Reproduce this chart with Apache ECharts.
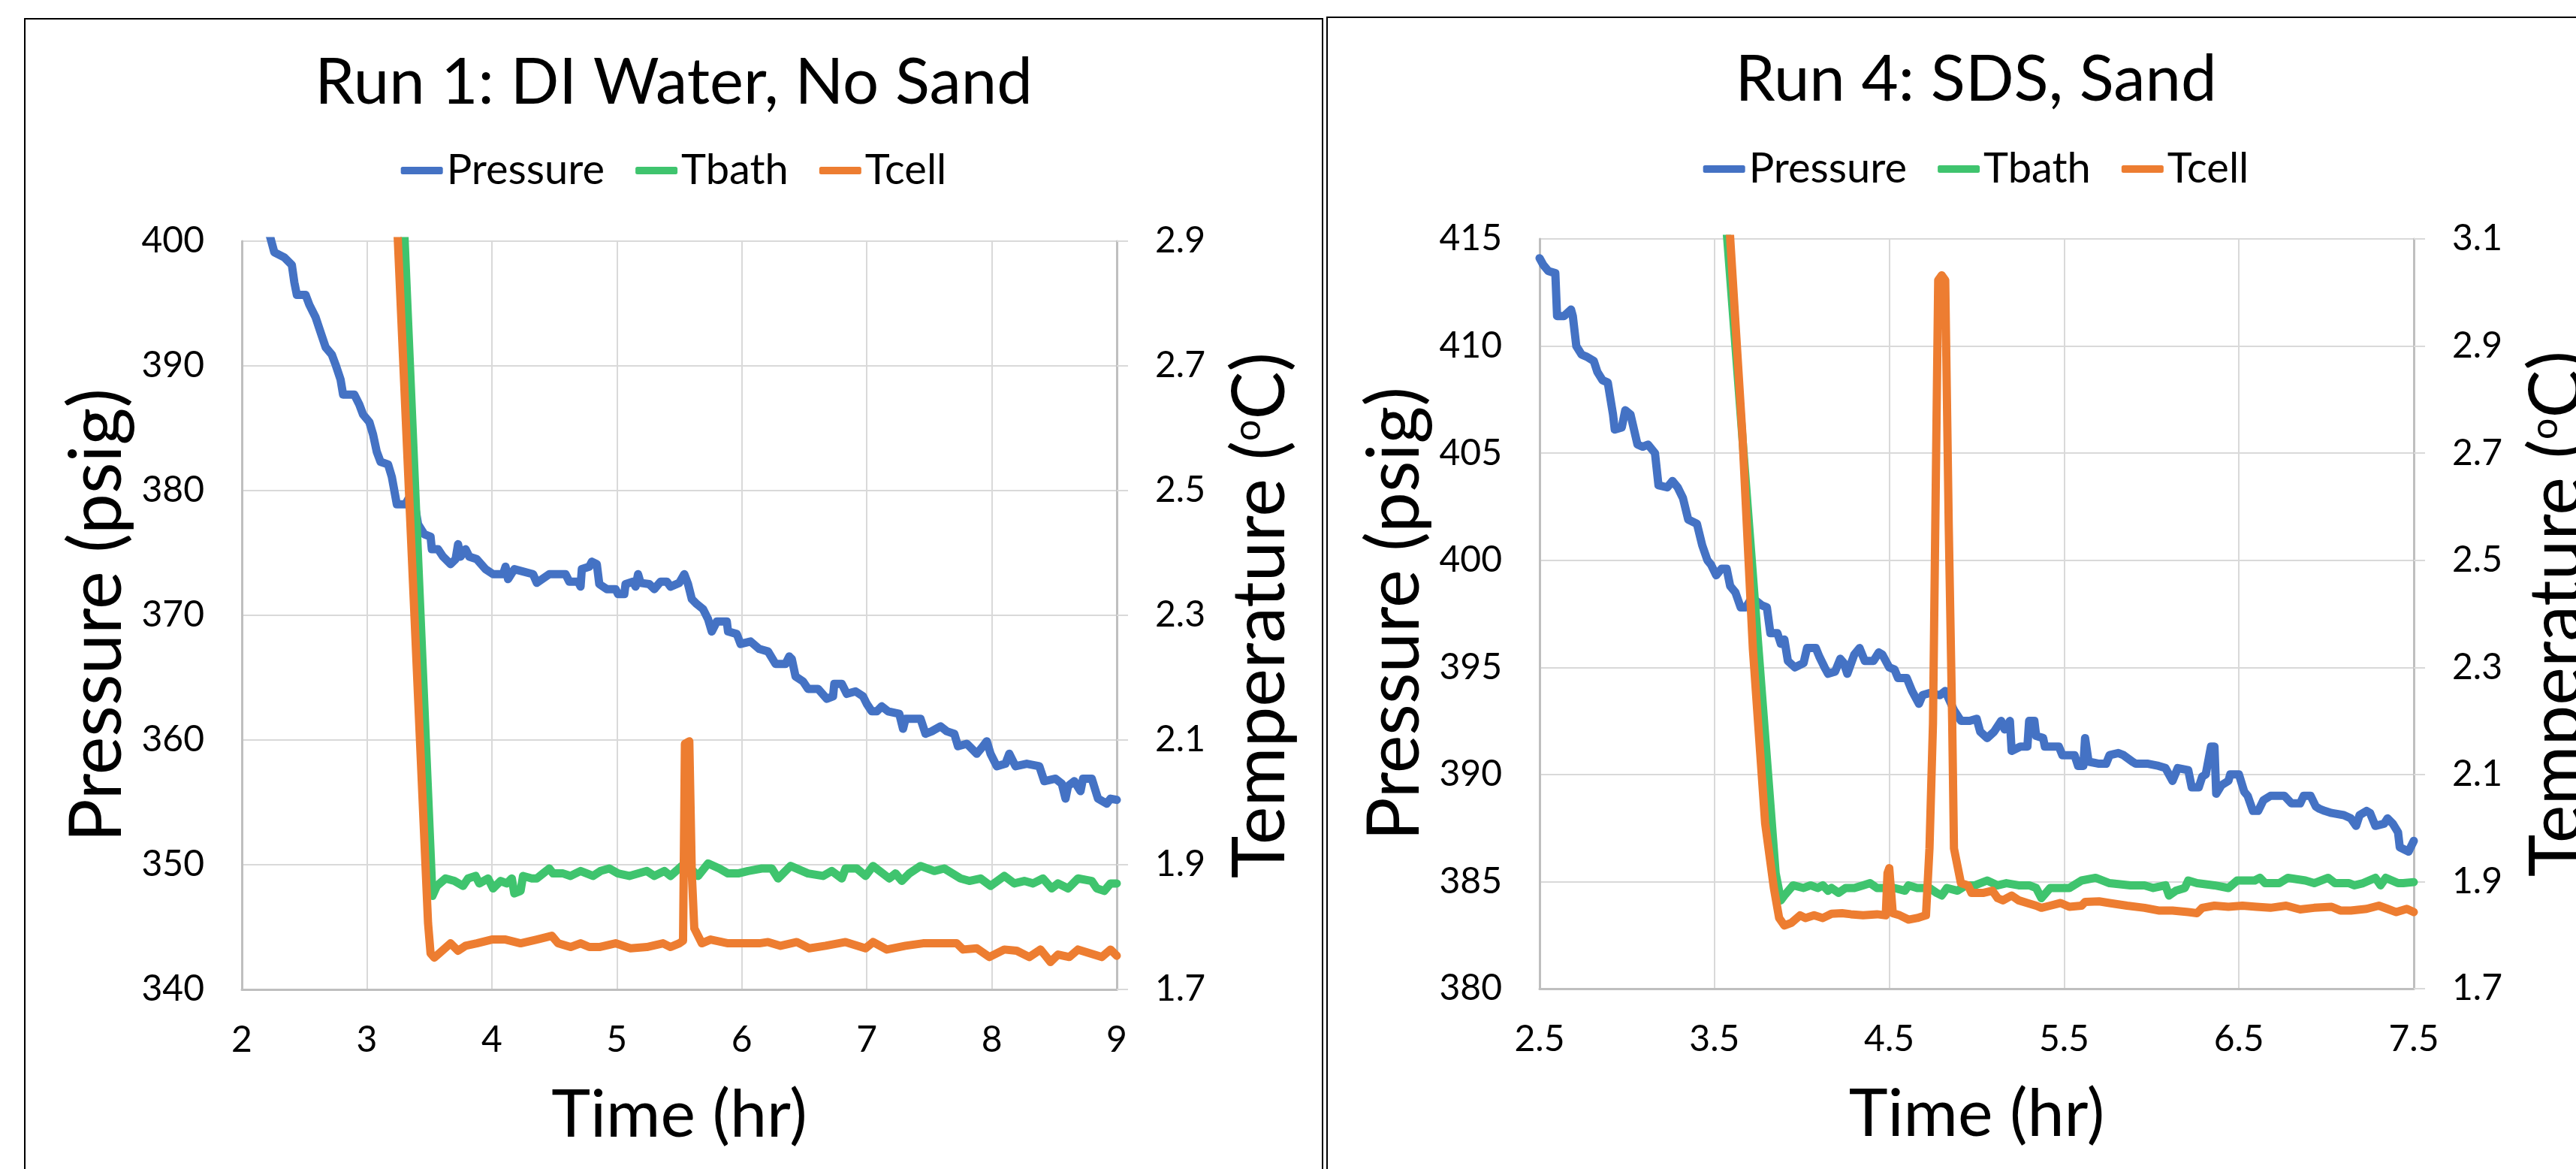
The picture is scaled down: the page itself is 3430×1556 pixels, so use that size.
<!DOCTYPE html>
<html>
<head>
<meta charset="utf-8">
<title>Run 1 / Run 4</title>
<script src="https://cdn.jsdelivr.net/npm/echarts@6/dist/echarts.min.js"></script>
<style>
  html, body { margin: 0; padding: 0; background: #fff; width: 3430px; height: 1556px; overflow: hidden; position: relative; }
  .panel { position: absolute; border: 2px solid #000; border-bottom: none; background: #fff; width: 1726px; height: 1540px; }
  #run1 { left: 32px; top: 24px; }
  #run4 { left: 1766px; top: 22px; }
</style>
</head>
<body>
<div class="panel" id="run1"></div>
<div class="panel" id="run4"></div>
<script>
const FONT = 'Lato';
const seriesNames = ['Pressure', 'Tbath', 'Tcell'];
const seriesColors = ['#4472C4', '#3FC46E', '#ED7D31'];

// Run 1: [time (hr), value]
const run1Pressure = [
  [2.18, 401.5], [2.225, 400.4], [2.26, 399.1], [2.34, 398.7], [2.40, 398.1], [2.42, 396.7], [2.44, 395.7],
  [2.51, 395.7], [2.54, 394.9], [2.59, 393.9], [2.63, 392.7], [2.67, 391.5], [2.72, 390.9], [2.75, 390.1],
  [2.79, 388.9], [2.81, 387.7], [2.90, 387.7], [2.94, 386.9], [2.97, 386.1], [3.02, 385.5], [3.05, 384.5],
  [3.08, 383.1], [3.11, 382.3], [3.17, 382.1], [3.20, 381.1], [3.24, 378.9], [3.31, 378.9], [3.33, 379.3],
  [3.38, 379.1], [3.41, 377.3], [3.46, 376.5], [3.51, 376.3], [3.52, 375.3], [3.57, 375.3], [3.61, 374.7],
  [3.67, 374.1], [3.71, 374.5], [3.73, 375.7], [3.75, 374.7], [3.79, 375.3], [3.82, 374.7], [3.88, 374.5],
  [3.95, 373.7], [4.01, 373.3], [4.09, 373.3], [4.11, 373.9], [4.13, 372.9], [4.18, 373.7], [4.33, 373.3],
  [4.36, 372.6], [4.46, 373.3], [4.59, 373.3], [4.62, 372.7], [4.69, 372.7], [4.71, 372.3], [4.72, 373.7],
  [4.78, 373.9], [4.80, 374.3], [4.84, 374.1], [4.86, 372.5], [4.92, 372.1], [4.99, 372.1], [5.01, 371.7],
  [5.06, 371.7], [5.07, 372.5], [5.13, 372.7], [5.15, 372.3], [5.17, 373.3], [5.19, 372.6], [5.26, 372.5],
  [5.30, 372.1], [5.35, 372.7], [5.40, 372.7], [5.43, 372.3], [5.50, 372.6], [5.54, 373.3], [5.57, 372.5],
  [5.60, 371.3], [5.64, 370.9], [5.69, 370.5], [5.73, 369.7], [5.76, 368.7], [5.80, 369.5], [5.88, 369.5],
  [5.89, 368.7], [5.96, 368.5], [5.99, 367.7], [6.07, 367.9], [6.14, 367.3], [6.21, 367.1], [6.27, 366.1],
  [6.35, 366.1], [6.38, 366.7], [6.40, 366.5], [6.43, 365.1], [6.49, 364.7], [6.53, 364.1], [6.61, 364.1],
  [6.68, 363.3], [6.73, 363.5], [6.74, 364.5], [6.80, 364.5], [6.84, 363.7], [6.91, 363.9], [6.97, 363.5],
  [7.00, 362.9], [7.04, 362.3], [7.08, 362.3], [7.12, 362.7], [7.17, 362.3], [7.26, 362.1], [7.29, 360.9],
  [7.31, 361.7], [7.43, 361.7], [7.47, 360.5], [7.52, 360.7], [7.59, 361.1], [7.64, 360.7], [7.70, 360.5],
  [7.73, 359.5], [7.80, 359.7], [7.88, 358.9], [7.93, 359.5], [7.96, 359.9], [7.99, 358.9], [8.04, 357.9],
  [8.11, 358.1], [8.14, 358.9], [8.19, 357.9], [8.28, 358.1], [8.38, 357.9], [8.42, 356.7], [8.51, 356.9],
  [8.56, 356.5], [8.59, 355.3], [8.61, 356.3], [8.66, 356.7], [8.71, 355.9], [8.73, 356.9], [8.80, 356.9],
  [8.85, 355.3], [8.92, 354.9], [8.95, 355.3], [9.00, 355.2]
];
const run1Tbath = [
  [3.25, 3.15], [3.525, 1.850], [3.56, 1.866], [3.63, 1.878], [3.70, 1.874], [3.77, 1.866], [3.81, 1.878],
  [3.87, 1.882], [3.90, 1.870], [3.97, 1.878], [4.01, 1.862], [4.07, 1.874], [4.12, 1.870], [4.16, 1.878],
  [4.18, 1.854], [4.23, 1.858], [4.25, 1.882], [4.32, 1.878], [4.36, 1.878], [4.41, 1.886], [4.46, 1.894],
  [4.49, 1.886], [4.57, 1.886], [4.63, 1.882], [4.71, 1.890], [4.81, 1.882], [4.87, 1.890], [4.94, 1.894],
  [5.01, 1.886], [5.10, 1.882], [5.24, 1.890], [5.30, 1.882], [5.38, 1.890], [5.43, 1.882], [5.52, 1.898],
  [5.57, 1.898], [5.65, 1.882], [5.73, 1.902], [5.82, 1.894], [5.89, 1.886], [5.97, 1.886], [6.05, 1.890],
  [6.16, 1.894], [6.24, 1.894], [6.29, 1.878], [6.39, 1.898], [6.53, 1.886], [6.65, 1.882], [6.72, 1.890],
  [6.80, 1.878], [6.83, 1.894], [6.92, 1.894], [6.99, 1.882], [7.05, 1.898], [7.18, 1.878], [7.23, 1.886],
  [7.28, 1.874], [7.34, 1.886], [7.43, 1.898], [7.54, 1.890], [7.62, 1.894], [7.75, 1.878], [7.82, 1.874],
  [7.91, 1.878], [7.99, 1.866], [8.10, 1.882], [8.18, 1.870], [8.26, 1.874], [8.33, 1.870], [8.41, 1.878],
  [8.48, 1.862], [8.53, 1.870], [8.61, 1.862], [8.69, 1.878], [8.80, 1.874], [8.84, 1.862], [8.90, 1.858],
  [8.95, 1.870], [9.00, 1.870]
];
const run1Tcell = [
  [3.20, 3.12], [3.49, 1.806], [3.51, 1.758], [3.54, 1.751], [3.58, 1.758], [3.67, 1.774], [3.73, 1.762],
  [3.79, 1.770], [3.88, 1.774], [4.00, 1.780], [4.11, 1.780], [4.23, 1.774], [4.36, 1.780], [4.48, 1.786],
  [4.53, 1.774], [4.63, 1.768], [4.71, 1.774], [4.78, 1.768], [4.86, 1.768], [4.99, 1.774], [5.11, 1.766],
  [5.24, 1.768], [5.37, 1.774], [5.43, 1.768], [5.50, 1.774], [5.53, 1.778], [5.545, 2.094], [5.58, 2.098],
  [5.60, 1.886], [5.62, 1.798], [5.68, 1.774], [5.75, 1.780], [5.89, 1.774], [6.00, 1.774], [6.14, 1.774],
  [6.21, 1.776], [6.31, 1.770], [6.44, 1.776], [6.54, 1.766], [6.67, 1.770], [6.83, 1.776], [6.99, 1.766],
  [7.05, 1.776], [7.16, 1.764], [7.31, 1.770], [7.45, 1.774], [7.59, 1.774], [7.72, 1.774], [7.77, 1.764],
  [7.88, 1.766], [7.98, 1.752], [8.10, 1.764], [8.20, 1.762], [8.30, 1.752], [8.39, 1.764], [8.47, 1.744],
  [8.53, 1.756], [8.62, 1.752], [8.69, 1.764], [8.88, 1.752], [8.95, 1.764], [9.00, 1.754]
];

// Run 4
const run4Pressure = [
  [2.50, 414.1], [2.52, 413.8], [2.55, 413.5], [2.59, 413.4], [2.60, 411.4], [2.64, 411.4], [2.68, 411.7],
  [2.69, 411.4], [2.71, 410.0], [2.74, 409.6], [2.77, 409.5], [2.81, 409.3], [2.83, 408.8], [2.86, 408.4],
  [2.89, 408.3], [2.92, 406.8], [2.93, 406.1], [2.97, 406.2], [2.99, 407.0], [3.02, 406.8], [3.06, 405.4],
  [3.09, 405.3], [3.12, 405.4], [3.16, 405.0], [3.18, 403.5], [3.23, 403.4], [3.26, 403.7], [3.29, 403.4],
  [3.32, 402.9], [3.35, 401.9], [3.40, 401.7], [3.43, 400.7], [3.46, 400.0], [3.48, 399.8], [3.51, 399.3],
  [3.54, 399.6], [3.57, 399.6], [3.59, 398.8], [3.62, 398.5], [3.65, 397.8], [3.68, 397.8], [3.71, 398.2],
  [3.72, 397.3], [3.74, 398.1], [3.77, 397.9], [3.80, 397.8], [3.82, 396.6], [3.86, 396.6], [3.88, 396.1],
  [3.90, 396.3], [3.92, 395.3], [3.96, 395.0], [4.01, 395.2], [4.03, 395.9], [4.08, 395.9], [4.10, 395.5],
  [4.13, 395.0], [4.15, 394.7], [4.19, 394.8], [4.22, 395.4], [4.24, 395.2], [4.26, 394.7], [4.30, 395.6],
  [4.33, 395.9], [4.36, 395.3], [4.41, 395.3], [4.44, 395.7], [4.46, 395.6], [4.50, 395.0], [4.53, 394.9],
  [4.55, 394.5], [4.60, 394.5], [4.63, 393.9], [4.67, 393.3], [4.69, 393.7], [4.73, 393.8], [4.79, 393.7],
  [4.82, 393.9], [4.87, 393.0], [4.91, 392.5], [4.96, 392.5], [5.00, 392.6], [5.02, 392.0], [5.06, 391.7],
  [5.10, 392.0], [5.14, 392.5], [5.16, 392.1], [5.19, 392.5], [5.20, 391.1], [5.25, 391.3], [5.29, 391.3],
  [5.30, 392.5], [5.33, 392.5], [5.34, 391.8], [5.38, 391.7], [5.39, 391.3], [5.47, 391.3], [5.49, 390.9],
  [5.56, 390.9], [5.58, 390.4], [5.61, 390.4], [5.62, 391.7], [5.64, 390.6], [5.70, 390.5], [5.74, 390.5],
  [5.76, 390.9], [5.81, 391.0], [5.84, 390.9], [5.89, 390.6], [5.91, 390.5], [5.98, 390.5], [6.04, 390.4],
  [6.08, 390.3], [6.12, 389.7], [6.15, 390.3], [6.21, 390.2], [6.23, 389.4], [6.27, 389.4], [6.29, 389.9],
  [6.31, 390.0], [6.34, 391.3], [6.36, 391.3], [6.37, 389.1], [6.40, 389.5], [6.44, 389.7], [6.45, 390.0],
  [6.50, 390.0], [6.53, 389.2], [6.55, 389.0], [6.58, 388.3], [6.61, 388.3], [6.64, 388.8], [6.68, 389.0],
  [6.76, 389.0], [6.80, 388.65], [6.85, 388.65], [6.87, 389.0], [6.91, 389.0], [6.94, 388.5], [6.96, 388.4],
  [6.99, 388.3], [7.03, 388.2], [7.10, 388.1], [7.14, 387.95], [7.17, 387.6], [7.19, 388.1], [7.23, 388.3],
  [7.25, 388.2], [7.28, 387.6], [7.33, 387.7], [7.35, 387.95], [7.38, 387.7], [7.41, 387.3], [7.42, 386.6],
  [7.47, 386.4], [7.50, 386.9]
];
const run4Tbath = [
  [3.55, 3.20], [3.85, 1.916], [3.88, 1.865], [3.90, 1.874], [3.95, 1.893], [4.01, 1.888], [4.05, 1.893],
  [4.09, 1.888], [4.12, 1.893], [4.15, 1.883], [4.17, 1.888], [4.21, 1.879], [4.25, 1.888], [4.30, 1.888],
  [4.35, 1.893], [4.39, 1.897], [4.43, 1.888], [4.48, 1.888], [4.53, 1.888], [4.59, 1.883], [4.61, 1.893],
  [4.66, 1.888], [4.73, 1.888], [4.77, 1.879], [4.80, 1.874], [4.83, 1.888], [4.89, 1.883], [4.94, 1.893],
  [4.99, 1.893], [5.06, 1.902], [5.12, 1.893], [5.17, 1.897], [5.24, 1.893], [5.30, 1.893], [5.34, 1.888],
  [5.37, 1.869], [5.42, 1.888], [5.48, 1.888], [5.53, 1.888], [5.60, 1.902], [5.68, 1.907], [5.76, 1.897],
  [5.88, 1.893], [5.96, 1.893], [6.01, 1.888], [6.08, 1.893], [6.10, 1.874], [6.14, 1.883], [6.19, 1.888],
  [6.21, 1.902], [6.26, 1.897], [6.36, 1.893], [6.44, 1.888], [6.49, 1.902], [6.59, 1.902], [6.62, 1.907],
  [6.65, 1.897], [6.73, 1.897], [6.78, 1.907], [6.88, 1.902], [6.93, 1.897], [7.01, 1.907], [7.05, 1.897],
  [7.13, 1.897], [7.16, 1.893], [7.21, 1.897], [7.28, 1.907], [7.31, 1.893], [7.34, 1.907], [7.41, 1.897],
  [7.44, 1.897], [7.50, 1.899]
];
const run4Tcell = [
  [3.56, 3.26], [3.66, 2.734], [3.72, 2.334], [3.79, 2.009], [3.84, 1.888], [3.87, 1.832], [3.90, 1.818],
  [3.94, 1.823], [3.99, 1.837], [4.02, 1.832], [4.07, 1.837], [4.12, 1.832], [4.17, 1.840], [4.23, 1.841],
  [4.28, 1.839], [4.35, 1.837], [4.43, 1.839], [4.48, 1.837], [4.49, 1.916], [4.50, 1.925], [4.52, 1.841],
  [4.56, 1.837], [4.61, 1.829], [4.66, 1.832], [4.71, 1.837], [4.73, 1.962], [4.75, 2.195], [4.77, 2.753],
  [4.78, 3.023], [4.80, 3.032], [4.82, 3.023], [4.84, 2.567], [4.86, 2.195], [4.87, 1.962], [4.91, 1.897],
  [4.95, 1.893], [4.97, 1.879], [5.04, 1.879], [5.09, 1.883], [5.12, 1.869], [5.15, 1.865], [5.20, 1.874],
  [5.24, 1.865], [5.29, 1.860], [5.34, 1.855], [5.37, 1.851], [5.42, 1.855], [5.48, 1.860], [5.53, 1.853],
  [5.60, 1.855], [5.62, 1.862], [5.70, 1.863], [5.76, 1.860], [5.86, 1.855], [5.96, 1.851], [6.04, 1.846],
  [6.12, 1.846], [6.21, 1.843], [6.26, 1.841], [6.29, 1.851], [6.36, 1.855], [6.44, 1.853], [6.52, 1.855],
  [6.60, 1.853], [6.68, 1.851], [6.77, 1.855], [6.85, 1.848], [6.93, 1.851], [7.03, 1.853], [7.08, 1.846],
  [7.14, 1.846], [7.23, 1.849], [7.30, 1.855], [7.35, 1.849], [7.40, 1.843], [7.46, 1.849], [7.50, 1.843]
];

const gridColor = '#D9D9D9';
const axisColor = '#BFBFBF';

function lineSeries(name, data, yAxisIndex, color) {
  return {
    name,
    type: 'line',
    data,
    yAxisIndex,
    symbol: 'none',
    showSymbol: false,
    smooth: false,
    clip: true,
    lineStyle: { width: 11, color, cap: 'round', join: 'round' },
    itemStyle: { color }
  };
}

function buildOption(cfg) {
  const labelStyle = { fontFamily: FONT, fontSize: 48, color: '#000' };
  const nameStyle = { fontFamily: FONT, fontSize: 88, color: '#000' };
  const vNameStyle = { fontFamily: FONT, fontSize: 96, color: '#000' };
  return {
    animation: false,
    title: {
      text: cfg.title,
      left: 'center',
      top: cfg.titleTop,
      padding: 0,
      textStyle: { fontFamily: FONT, fontSize: 85, fontWeight: 'normal', color: '#000' }
    },
    legend: {
      data: seriesNames,
      left: 'center',
      top: 173,
      padding: 0,
      itemGap: 41,
      icon: 'roundRect',
      itemWidth: 56,
      itemHeight: 10,
      textStyle: { fontFamily: FONT, fontSize: 56, color: '#000' }
    },
    grid: cfg.grid,
    xAxis: {
      type: 'value',
      min: cfg.xRange[0],
      max: cfg.xRange[1],
      interval: 1,
      name: 'Time (hr)',
      nameLocation: 'middle',
      nameGap: 124,
      nameTextStyle: nameStyle,
      axisLine: { show: true, lineStyle: { color: axisColor, width: 3 } },
      axisTick: { show: false },
      splitLine: { show: true, lineStyle: { color: gridColor, width: 2 } },
      axisLabel: Object.assign({ margin: 44, formatter: cfg.xFormat }, labelStyle)
    },
    yAxis: [{
      type: 'value',
      min: cfg.pRange[0],
      max: cfg.pRange[1],
      interval: cfg.pStep,
      name: 'Pressure (psig)',
      nameLocation: 'middle',
      nameRotate: 90,
      nameGap: 134,
      nameTextStyle: vNameStyle,
      axisLine: { show: true, lineStyle: { color: axisColor, width: 3 } },
      axisTick: { show: false },
      splitLine: { show: true, lineStyle: { color: gridColor, width: 2 } },
      axisLabel: Object.assign({ margin: 50 }, labelStyle)
    }, {
      type: 'value',
      position: 'right',
      min: cfg.tRange[0],
      max: cfg.tRange[1],
      interval: 0.2,
      name: 'Temperature ({sup|o}C)',
      nameLocation: 'middle',
      nameRotate: 90,
      nameGap: 144,
      nameTextStyle: Object.assign({
        rich: { sup: { fontFamily: FONT, fontSize: 50, color: '#000', verticalAlign: 'top', padding: [6, 0, 0, 0] } }
      }, vNameStyle),
      axisLine: { show: true, lineStyle: { color: axisColor, width: 3 } },
      axisTick: { show: true, inside: false, length: 15, lineStyle: { color: gridColor, width: 2 } },
      splitLine: { show: false },
      axisLabel: Object.assign({ margin: 51, formatter: v => v.toFixed(1) }, labelStyle)
    }],
    series: [
      lineSeries(seriesNames[0], cfg.pressure, 0, seriesColors[0]),
      lineSeries(seriesNames[1], cfg.tbath, 1, seriesColors[1]),
      lineSeries(seriesNames[2], cfg.tcell, 1, seriesColors[2])
    ]
  };
}

const chart1 = echarts.init(document.getElementById('run1'));
chart1.setOption(buildOption({
  title: 'Run 1: DI Water, No Sand',
  titleTop: 42,
  grid: { left: 288, top: 295, width: 1165, height: 996 },
  xRange: [2, 9],
  xFormat: v => String(v),
  pRange: [340, 400],
  pStep: 10,
  tRange: [1.7, 2.9],
  pressure: run1Pressure,
  tbath: run1Tbath,
  tcell: run1Tcell
}));

const chart4 = echarts.init(document.getElementById('run4'));
chart4.setOption(buildOption({
  title: 'Run 4: SDS, Sand',
  titleTop: 40,
  grid: { left: 282, top: 294, width: 1164, height: 998 },
  xRange: [2.5, 7.5],
  xFormat: v => v.toFixed(1),
  pRange: [380, 415],
  pStep: 5,
  tRange: [1.7, 3.1],
  pressure: run4Pressure,
  tbath: run4Tbath,
  tcell: run4Tcell
}));
</script>
</body>
</html>
